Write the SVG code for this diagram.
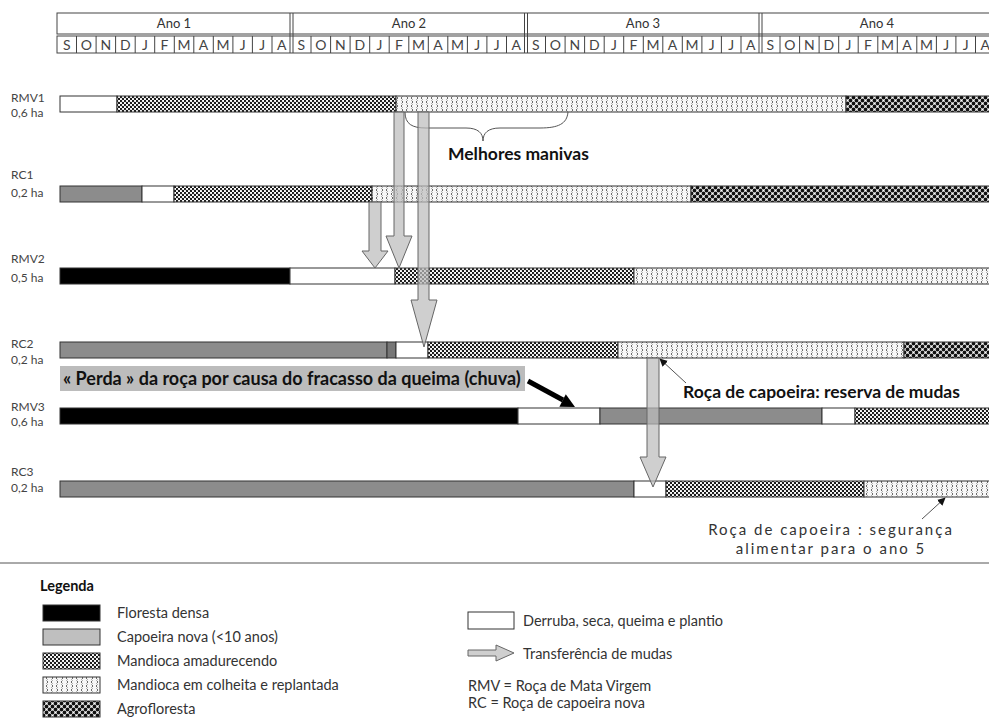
<svg xmlns="http://www.w3.org/2000/svg" width="989" height="719" viewBox="0 0 989 719">
<defs>
<pattern id="pAmad" width="4" height="4" patternUnits="userSpaceOnUse">
<rect width="4" height="4" fill="#fff"/>
<circle cx="1" cy="1" r="1.15" fill="#111"/>
<circle cx="3" cy="3" r="1.15" fill="#111"/>
</pattern>
<pattern id="pHarv" width="10" height="8" patternUnits="userSpaceOnUse">
<rect width="10" height="8" fill="#f7f7f7"/>
<path d="M2.5,0.5 L1,2 L2.5,3.5 M6.5,0.5 L8,2 L6.5,3.5 M7.5,4.5 L6,6 L7.5,7.5 M1.5,4.5 L3,6 L1.5,7.5" fill="none" stroke="#5a5a5a" stroke-width="0.9"/>
</pattern>
<pattern id="pAgro" width="6" height="6" patternUnits="userSpaceOnUse">
<rect width="6" height="6" fill="#fff"/>
<circle cx="1.5" cy="1.5" r="1.9" fill="#111"/>
<circle cx="4.5" cy="4.5" r="1.9" fill="#111"/>
<circle cx="7.5" cy="1.5" r="1.9" fill="#111"/>
<circle cx="1.5" cy="7.5" r="1.9" fill="#111"/>
<circle cx="-1.5" cy="4.5" r="1.9" fill="#111"/>
<circle cx="4.5" cy="-1.5" r="1.9" fill="#111"/>
</pattern>
<marker id="mSmall" viewBox="0 0 10 10" refX="9" refY="5" markerWidth="8" markerHeight="8" markerUnits="userSpaceOnUse" orient="auto">
<path d="M0,0 L10,5 L0,10 z" fill="#111"/>
</marker>
<style>
.hdr{fill:none;stroke:#444;stroke-width:1}
.hl{stroke:#444;stroke-width:1}
.ht{font-family:Lato,"Liberation Sans",sans-serif;font-size:13px;fill:#333;text-anchor:middle}
.mt{font-family:Lato,"Liberation Sans",sans-serif;font-size:14px;fill:#444;text-anchor:middle}
.lab{font-family:Lato,"Liberation Sans",sans-serif;font-size:12px;fill:#444}
.seg{stroke:#333;stroke-width:1}
.forest{fill:#000}
.cap{fill:#8c8c8c}
.cap2{fill:#777}
.clear{fill:#fff}
.amad{fill:url(#pAmad)}
.harv{fill:url(#pHarv)}
.agro{fill:url(#pAgro)}
.tr{fill:#bdbdbd;fill-opacity:0.72;stroke:#666;stroke-width:1}
.bold{font-family:Lato,"Liberation Sans",sans-serif;font-weight:bold;font-size:17.5px;fill:#111}
.note{font-family:Lato,"Liberation Sans",sans-serif;font-size:15px;letter-spacing:2px;fill:#333}
.leg{font-family:Lato,"Liberation Sans",sans-serif;font-size:14.5px;fill:#333}
.thin{stroke:#555;stroke-width:1;fill:none}
</style>
</defs>
<rect width="989" height="719" fill="#fff"/>

<g id="timeline">
<rect class="hdr" x="57" y="13" width="940" height="21"/>
<rect class="hdr" x="57" y="36" width="940" height="17"/>
<g class="hl">
<line x1="290" y1="13" x2="290" y2="53"/><line x1="293" y1="13" x2="293" y2="53"/>
<line x1="524.5" y1="13" x2="524.5" y2="53"/><line x1="527.5" y1="13" x2="527.5" y2="53"/>
<line x1="759" y1="13" x2="759" y2="53"/><line x1="762" y1="13" x2="762" y2="53"/>
</g>
<g class="hl">
<line x1="76.5" y1="36" x2="76.5" y2="53"/><line x1="96.1" y1="36" x2="96.1" y2="53"/><line x1="115.6" y1="36" x2="115.6" y2="53"/><line x1="135.2" y1="36" x2="135.2" y2="53"/><line x1="154.7" y1="36" x2="154.7" y2="53"/><line x1="174.3" y1="36" x2="174.3" y2="53"/><line x1="193.8" y1="36" x2="193.8" y2="53"/><line x1="213.3" y1="36" x2="213.3" y2="53"/><line x1="232.9" y1="36" x2="232.9" y2="53"/><line x1="252.4" y1="36" x2="252.4" y2="53"/><line x1="272" y1="36" x2="272" y2="53"/>
<line x1="311" y1="36" x2="311" y2="53"/><line x1="330.6" y1="36" x2="330.6" y2="53"/><line x1="350.1" y1="36" x2="350.1" y2="53"/><line x1="369.7" y1="36" x2="369.7" y2="53"/><line x1="389.2" y1="36" x2="389.2" y2="53"/><line x1="408.8" y1="36" x2="408.8" y2="53"/><line x1="428.3" y1="36" x2="428.3" y2="53"/><line x1="447.8" y1="36" x2="447.8" y2="53"/><line x1="467.4" y1="36" x2="467.4" y2="53"/><line x1="486.9" y1="36" x2="486.9" y2="53"/><line x1="506.5" y1="36" x2="506.5" y2="53"/>
<line x1="545.5" y1="36" x2="545.5" y2="53"/><line x1="565.1" y1="36" x2="565.1" y2="53"/><line x1="584.6" y1="36" x2="584.6" y2="53"/><line x1="604.2" y1="36" x2="604.2" y2="53"/><line x1="623.7" y1="36" x2="623.7" y2="53"/><line x1="643.3" y1="36" x2="643.3" y2="53"/><line x1="662.8" y1="36" x2="662.8" y2="53"/><line x1="682.3" y1="36" x2="682.3" y2="53"/><line x1="701.9" y1="36" x2="701.9" y2="53"/><line x1="721.4" y1="36" x2="721.4" y2="53"/><line x1="741" y1="36" x2="741" y2="53"/>
<line x1="780" y1="36" x2="780" y2="53"/><line x1="799.6" y1="36" x2="799.6" y2="53"/><line x1="819.1" y1="36" x2="819.1" y2="53"/><line x1="838.7" y1="36" x2="838.7" y2="53"/><line x1="858.2" y1="36" x2="858.2" y2="53"/><line x1="877.8" y1="36" x2="877.8" y2="53"/><line x1="897.3" y1="36" x2="897.3" y2="53"/><line x1="916.8" y1="36" x2="916.8" y2="53"/><line x1="936.4" y1="36" x2="936.4" y2="53"/><line x1="955.9" y1="36" x2="955.9" y2="53"/><line x1="975.5" y1="36" x2="975.5" y2="53"/>
</g>
<text class="ht" x="174" y="28">Ano 1</text>
<text class="ht" x="409" y="28">Ano 2</text>
<text class="ht" x="643" y="28">Ano 3</text>
<text class="ht" x="877" y="28">Ano 4</text>
<g class="mt">
<text x="66.8" y="50">S</text><text x="86.3" y="50">O</text><text x="105.9" y="50">N</text><text x="125.4" y="50">D</text><text x="144.9" y="50">J</text><text x="164.5" y="50">F</text><text x="184" y="50">M</text><text x="203.6" y="50">A</text><text x="223.1" y="50">M</text><text x="242.6" y="50">J</text><text x="262.2" y="50">J</text><text x="281.7" y="50">A</text>
<text x="301.3" y="50">S</text><text x="320.8" y="50">O</text><text x="340.4" y="50">N</text><text x="359.9" y="50">D</text><text x="379.4" y="50">J</text><text x="399" y="50">F</text><text x="418.5" y="50">M</text><text x="438.1" y="50">A</text><text x="457.6" y="50">M</text><text x="477.1" y="50">J</text><text x="496.7" y="50">J</text><text x="516.2" y="50">A</text>
<text x="535.8" y="50">S</text><text x="555.3" y="50">O</text><text x="574.9" y="50">N</text><text x="594.4" y="50">D</text><text x="613.9" y="50">J</text><text x="633.5" y="50">F</text><text x="653" y="50">M</text><text x="672.6" y="50">A</text><text x="692.1" y="50">M</text><text x="711.6" y="50">J</text><text x="731.2" y="50">J</text><text x="750.7" y="50">A</text>
<text x="770.3" y="50">S</text><text x="789.8" y="50">O</text><text x="809.4" y="50">N</text><text x="828.9" y="50">D</text><text x="848.4" y="50">J</text><text x="868" y="50">F</text><text x="887.5" y="50">M</text><text x="907.1" y="50">A</text><text x="926.6" y="50">M</text><text x="946.1" y="50">J</text><text x="965.7" y="50">J</text><text x="985.2" y="50">A</text>
</g>
</g>

<g id="RMV1">
<text class="lab" x="11" y="102">RMV1</text>
<text class="lab" x="11" y="117">0,6 ha</text>
<rect class="seg clear" x="60" y="96" width="57" height="16"/>
<rect class="seg amad" x="117" y="96" width="279" height="16"/>
<rect class="seg harv" x="396" y="96" width="450" height="16"/>
<rect class="seg agro" x="846" y="96" width="150" height="16"/>
</g>

<g id="RC1">
<text class="lab" x="11" y="179">RC1</text>
<text class="lab" x="11" y="197">0,2 ha</text>
<rect class="seg cap" x="60" y="186" width="82" height="16"/>
<rect class="seg clear" x="142" y="186" width="32" height="16"/>
<rect class="seg amad" x="174" y="186" width="198" height="16"/>
<rect class="seg harv" x="372" y="186" width="319" height="16"/>
<rect class="seg agro" x="691" y="186" width="305" height="16"/>
</g>

<g id="RMV2">
<text class="lab" x="11" y="263">RMV2</text>
<text class="lab" x="11" y="282">0,5 ha</text>
<rect class="seg forest" x="60" y="268" width="230" height="16"/>
<rect class="seg clear" x="290" y="268" width="105" height="16"/>
<rect class="seg amad" x="395" y="268" width="239" height="16"/>
<rect class="seg harv" x="634" y="268" width="362" height="16"/>
</g>

<g id="RC2">
<text class="lab" x="11" y="348">RC2</text>
<text class="lab" x="11" y="364">0,2 ha</text>
<rect class="seg cap" x="60" y="342" width="327" height="16"/>
<rect class="seg cap2" x="387" y="342" width="9" height="16"/>
<rect class="seg clear" x="396" y="342" width="32" height="16"/>
<rect class="seg amad" x="428" y="342" width="190" height="16"/>
<rect class="seg harv" x="618" y="342" width="286" height="16"/>
<rect class="seg agro" x="904" y="342" width="92" height="16"/>
</g>

<g id="RMV3">
<text class="lab" x="11" y="411">RMV3</text>
<text class="lab" x="11" y="426">0,6 ha</text>
<rect class="seg forest" x="60" y="408" width="458" height="16"/>
<rect class="seg clear" x="518" y="408" width="82" height="16"/>
<rect class="seg cap" x="600" y="408" width="222" height="16"/>
<rect class="seg clear" x="822" y="408" width="33" height="16"/>
<rect class="seg amad" x="855" y="408" width="141" height="16"/>
</g>

<g id="RC3">
<text class="lab" x="11" y="476">RC3</text>
<text class="lab" x="11" y="492">0,2 ha</text>
<rect class="seg cap" x="60" y="481" width="574" height="16"/>
<rect class="seg clear" x="634" y="481" width="32" height="16"/>
<rect class="seg amad" x="666" y="481" width="198" height="16"/>
<rect class="seg harv" x="864" y="481" width="132" height="16"/>
</g>

<g id="annotations">
<path class="thin" d="M405,112 C405,124 412,128 426,128 L466,128 C478,128 483,133 483,141 C483,133 488,128 500,128 L540,128 C558,128 567,124 568,112" stroke="#777" stroke-width="1.3"/>
<text class="bold" x="448" y="160">Melhores manivas</text>
<rect x="60" y="366" width="465" height="25" fill="#bcbcbc"/>
<text class="bold" x="63" y="385" style="font-size:18px">« Perda » da roça por causa do fracasso da queima (chuva)</text>
<text class="bold" x="683" y="398">Roça de capoeira: reserva de mudas</text>
<text class="note" x="831" y="535" text-anchor="middle">Roça de capoeira : segurança</text>
<text class="note" x="831" y="554" text-anchor="middle">alimentar para o ano 5</text>
</g>

<g id="connectors">
<polygon class="tr" points="394,112 404,112 404,236 412,236 399,268 386,236 394,236"/>
<polygon class="tr" points="369,202 381,202 381,251 388,251 375,268 362,251 369,251"/>
<polygon class="tr" points="418,112 429,112 429,300 437,300 424,347 411,300 418,300"/>
<polygon class="tr" points="647,358 659,358 659,457 666,457 653,487 640,457 647,457"/>
<line x1="528" y1="381" x2="563" y2="400" stroke="#000" stroke-width="5"/>
<polygon points="575,407 559.4,406.7 565.8,394.3" fill="#000"/>
<line class="thin" x1="686" y1="383" x2="660" y2="359" marker-end="url(#mSmall)"/>
<line class="thin" x1="922" y1="519" x2="945" y2="498" marker-end="url(#mSmall)"/>
</g>

<line x1="0" y1="563" x2="989" y2="563" stroke="#555" stroke-width="1"/>

<g id="legend">
<text class="bold" x="40" y="591" style="font-size:14.5px">Legenda</text>
<rect class="seg forest" x="43" y="605" width="57" height="16"/>
<rect x="43" y="629" width="57" height="16" fill="#bfbfbf" stroke="#333"/>
<rect class="seg amad" x="43" y="653" width="57" height="16"/>
<rect class="seg harv" x="43" y="677" width="57" height="16"/>
<rect class="seg agro" x="43" y="701" width="57" height="16"/>
<text class="leg" x="117" y="618">Floresta densa</text>
<text class="leg" x="117" y="642">Capoeira nova (&lt;10 anos)</text>
<text class="leg" x="117" y="666">Mandioca amadurecendo</text>
<text class="leg" x="117" y="690">Mandioca em colheita e replantada</text>
<text class="leg" x="117" y="714">Agrofloresta</text>
<rect class="seg clear" x="468" y="612" width="46" height="17"/>
<text class="leg" x="523" y="626">Derruba, seca, queima e plantio</text>
<polygon class="tr" points="468,650 496,650 496,645 514,653 496,661 496,656 468,656"/>
<text class="leg" x="523" y="659">Transferência de mudas</text>
<text class="leg" x="468" y="691">RMV = Roça de Mata Virgem</text>
<text class="leg" x="468" y="708">RC = Roça de capoeira nova</text>
</g>
</svg>
